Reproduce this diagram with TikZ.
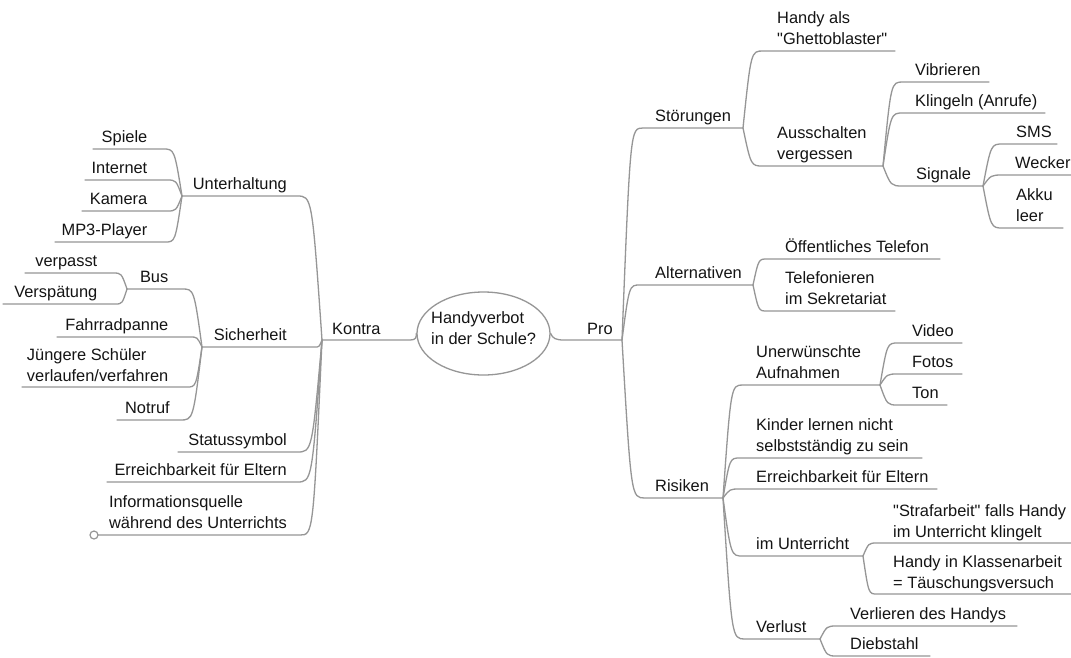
\documentclass[tikz,border=0pt]{standalone}
\usepackage{fontspec}
\setmainfont{Liberation Sans}[Ligatures=TeXOff]
\usetikzlibrary{calc,shapes.geometric}
\definecolor{linegray}{RGB}{150,150,150}
\definecolor{txtcol}{RGB}{20,20,20}
\newcommand\lblfont{\fontsize{16.4}{21}\selectfont}
\newcommand\twol[2]{\begin{tabular}[t]{@{}l@{}}#1\\#2\end{tabular}}
\tikzset{
  conn/.style={draw=linegray, line width=1.3pt, line cap=round},
  branch/.style={to path={.. controls ($(\tikztostart|-\tikztotarget)!0.4!(\tikztotarget)$) and ($(\tikztostart|-\tikztotarget)!0.4!(\tikztotarget)$) .. (\tikztotarget)}},
  lbl/.style={inner sep=0pt, text=txtcol, font=\lblfont},
  ltxt/.style={lbl, anchor=base east},
  rtxt/.style={lbl, anchor=base west},
  center/.style={ellipse, draw=linegray, line width=1.3pt, minimum width=133pt, minimum height=83pt, inner sep=0pt},
  endring/.style={circle, draw=linegray, fill=white, line width=1.2pt, minimum size=8pt, inner sep=0pt}
}
\begin{document}
\begin{tikzpicture}[x=1pt,y=-1pt]
\fill[white] (0,0) rectangle (1071,657);
\useasboundingbox (0,0) rectangle (1071,657);

% ---------- centre ----------
\node[center] (hv) at (483.5,333.5) {};
\node[rtxt] (hvt) at (431,323) {\twol{Handyverbot}{in der Schule?}};

% ---------- coordinates: left side ----------
\coordinate (konJ) at (322,340); \coordinate (konC) at (410,340);
\coordinate (untJ) at (182,196); \coordinate (untC) at (297,196);
\coordinate (spiL) at (93,149);  \coordinate (spiC) at (163,149);
\coordinate (intL) at (85,180);  \coordinate (intC) at (167,180);
\coordinate (kamL) at (82,211);  \coordinate (kamC) at (167,211);
\coordinate (mp3L) at (55,242);  \coordinate (mp3C) at (165,242);
\coordinate (sicJ) at (202,347); \coordinate (sicC) at (315,347);
\coordinate (busJ) at (127,289); \coordinate (busC) at (182,289);
\coordinate (verpL) at (25,273); \coordinate (verpC) at (113,273);
\coordinate (vspL) at (3,304);   \coordinate (vspC) at (115,304);
\coordinate (fahL) at (57,337);  \coordinate (fahC) at (190,337);
\coordinate (jueL) at (22,387);  \coordinate (jueC) at (187,387);
\coordinate (notL) at (117,420); \coordinate (notC) at (180,420);
\coordinate (stsL) at (178,452); \coordinate (stsC) at (297,452);
\coordinate (erlL) at (107,482); \coordinate (erlC) at (297,482);
\coordinate (infL) at (94,535);  \coordinate (infC) at (300,535);

% ---------- coordinates: right side ----------
\coordinate (proC) at (564,340); \coordinate (proJ) at (622,340);
\coordinate (stoC) at (643,128); \coordinate (stoJ) at (743,128);
\coordinate (hanC) at (763,51);  \coordinate (hanR) at (895,51);
\coordinate (ausC) at (763,166); \coordinate (ausJ) at (883,166);
\coordinate (vibC) at (903,82);  \coordinate (vibR) at (989,82);
\coordinate (kliC) at (903,113); \coordinate (kliR) at (1045,113);
\coordinate (sigC) at (903,186); \coordinate (sigJ) at (983,186);
\coordinate (smsC) at (1003,144); \coordinate (smsR) at (1057,144);
\coordinate (wecC) at (1003,175); \coordinate (wecR) at (1071,175);
\coordinate (akkC) at (1003,228); \coordinate (akkR) at (1063,228);
\coordinate (altC) at (640,285); \coordinate (altJ) at (753,285);
\coordinate (oefC) at (767,259); \coordinate (oefR) at (940,259);
\coordinate (telC) at (767,311); \coordinate (telR) at (895,311);
\coordinate (risC) at (645,498); \coordinate (risJ) at (723,498);
\coordinate (uneC) at (743,385); \coordinate (uneJ) at (880,385);
\coordinate (vidC) at (898,343); \coordinate (vidR) at (962,343);
\coordinate (fotC) at (898,374); \coordinate (fotR) at (962,374);
\coordinate (tonC) at (898,405); \coordinate (tonR) at (947,405);
\coordinate (kinC) at (740,458); \coordinate (kinR) at (922,458);
\coordinate (errC) at (740,489); \coordinate (errR) at (937,489);
\coordinate (imuC) at (743,556); \coordinate (imuJ) at (863,556);
\coordinate (strC) at (877,543); \coordinate (strR) at (1071,543);
\coordinate (hkaC) at (877,594); \coordinate (hkaR) at (1071,594);
\coordinate (verC) at (745,639); \coordinate (verJ) at (820,639);
\coordinate (vlhC) at (837,626); \coordinate (vlhR) at (1017,626);
\coordinate (dieC) at (837,656); \coordinate (dieR) at (930,656);

% ---------- connectors: left ----------
\draw[conn] (konJ) -- (konC) .. controls ($(konC)+(6,0)$) and ($(hv.west)+(0,4)$) .. (hv.west);
\draw[conn] (konJ) to[branch] (untC) -- (untJ);
\draw[conn] (untJ) to[branch] (spiC) -- (spiL);
\draw[conn] (untJ) to[branch] (intC) -- (intL);
\draw[conn] (untJ) to[branch] (kamC) -- (kamL);
\draw[conn] (untJ) to[branch] (mp3C) -- (mp3L);
\draw[conn] (konJ) to[branch] (sicC) -- (sicJ);
\draw[conn] (sicJ) to[branch] (busC) -- (busJ);
\draw[conn] (busJ) to[branch] (verpC) -- (verpL);
\draw[conn] (busJ) to[branch] (vspC) -- (vspL);
\draw[conn] (sicJ) to[branch] (fahC) -- (fahL);
\draw[conn] (sicJ) to[branch] (jueC) -- (jueL);
\draw[conn] (sicJ) to[branch] (notC) -- (notL);
\draw[conn] (konJ) to[branch] (stsC) -- (stsL);
\draw[conn] (konJ) to[branch] (erlC) -- (erlL);
\draw[conn] (konJ) to[branch] (infC) -- (infL);
\node[endring] (infO) at (infL) {};

% ---------- connectors: right ----------
\draw[conn] (hv.east) .. controls ($(hv.east)+(2,5)$) and ($(proC)+(-8,0)$) .. (proC) -- (proJ);
\draw[conn] (proJ) to[branch] (stoC) -- (stoJ);
\draw[conn] (stoJ) to[branch] (hanC) -- (hanR);
\draw[conn] (stoJ) to[branch] (ausC) -- (ausJ);
\draw[conn] (ausJ) to[branch] (vibC) -- (vibR);
\draw[conn] (ausJ) to[branch] (kliC) -- (kliR);
\draw[conn] (ausJ) to[branch] (sigC) -- (sigJ);
\draw[conn] (sigJ) to[branch] (smsC) -- (smsR);
\draw[conn] (sigJ) to[branch] (wecC) -- (wecR);
\draw[conn] (sigJ) to[branch] (akkC) -- (akkR);
\draw[conn] (proJ) to[branch] (altC) -- (altJ);
\draw[conn] (altJ) to[branch] (oefC) -- (oefR);
\draw[conn] (altJ) to[branch] (telC) -- (telR);
\draw[conn] (proJ) to[branch] (risC) -- (risJ);
\draw[conn] (risJ) to[branch] (uneC) -- (uneJ);
\draw[conn] (uneJ) to[branch] (vidC) -- (vidR);
\draw[conn] (uneJ) to[branch] (fotC) -- (fotR);
\draw[conn] (uneJ) to[branch] (tonC) -- (tonR);
\draw[conn] (risJ) to[branch] (kinC) -- (kinR);
\draw[conn] (risJ) to[branch] (errC) -- (errR);
\draw[conn] (risJ) to[branch] (imuC) -- (imuJ);
\draw[conn] (imuJ) to[branch] (strC) -- (strR);
\draw[conn] (imuJ) to[branch] (hkaC) -- (hkaR);
\draw[conn] (risJ) to[branch] (verC) -- (verJ);
\draw[conn] (verJ) to[branch] (vlhC) -- (vlhR);
\draw[conn] (verJ) to[branch] (dieC) -- (dieR);

% ---------- labels: left ----------
\node[rtxt] (kon) at (332,334) {Kontra};
\node[ltxt] (unt) at (287,189.5) {Unterhaltung};
\node[ltxt] (spi) at (147.5,142.5) {Spiele};
\node[ltxt] (int) at (147.5,173.5) {Internet};
\node[ltxt] (kam) at (147.5,204.5) {Kamera};
\node[ltxt] (mp3) at (147.5,235.5) {MP3-Player};
\node[ltxt] (sic) at (287,340.5) {Sicherheit};
\node[ltxt] (bus) at (168.5,282.5) {Bus};
\node[ltxt] (verp) at (97.5,266.5) {verpasst};
\node[ltxt] (vsp) at (97.5,297.5) {Verspätung};
\node[ltxt] (fah) at (168.5,330.5) {Fahrradpanne};
\node[ltxt] (jue) at (168.5,360.5) {\twol{Jüngere Schüler}{verlaufen/verfahren}};
\node[ltxt] (not) at (170,413.5) {Notruf};
\node[ltxt] (sts) at (287,445.5) {Statussymbol};
\node[ltxt] (erl) at (287,475.5) {Erreichbarkeit für Eltern};
\node[ltxt] (inf) at (287,507.5) {\twol{Informationsquelle}{während des Unterrichts}};

% ---------- labels: right ----------
\node[rtxt] (pro) at (587,334) {Pro};
\node[rtxt] (sto) at (655,121.5) {Störungen};
\node[rtxt] (han) at (777,23.5) {\twol{Handy als}{"Ghettoblaster"}};
\node[rtxt] (aus) at (777,138.5) {\twol{Ausschalten}{vergessen}};
\node[rtxt] (vib) at (915,75.5) {Vibrieren};
\node[rtxt] (kli) at (915,106.5) {Klingeln (Anrufe)};
\node[rtxt] (sig) at (916,179.5) {Signale};
\node[rtxt] (sms) at (1016,137.5) {SMS};
\node[rtxt] (wec) at (1015,168.5) {Wecker};
\node[rtxt] (akk) at (1016,200.5) {\twol{Akku}{leer}};
\node[rtxt] (alt) at (655,278.5) {Alternativen};
\node[rtxt] (oef) at (785,252.5) {Öffentliches Telefon};
\node[rtxt] (tel) at (785,283.5) {\twol{Telefonieren}{im Sekretariat}};
\node[rtxt] (ris) at (655,491.5) {Risiken};
\node[rtxt] (une) at (756,357.5) {\twol{Unerwünschte}{Aufnahmen}};
\node[rtxt] (vid) at (912,336.5) {Video};
\node[rtxt] (fot) at (912,367.5) {Fotos};
\node[rtxt] (ton) at (912,398.5) {Ton};
\node[rtxt] (kin) at (756,430.5) {\twol{Kinder lernen nicht}{selbstständig zu sein}};
\node[rtxt] (err) at (756,482.5) {Erreichbarkeit für Eltern};
\node[rtxt] (imu) at (756,549.5) {im Unterricht};
\node[rtxt] (str) at (893,516.5) {\twol{"Strafarbeit" falls Handy}{im Unterricht klingelt}};
\node[rtxt] (hka) at (893,567) {\twol{Handy in Klassenarbeit}{= Täuschungsversuch}};
\node[rtxt] (ver) at (756,632.5) {Verlust};
\node[rtxt] (vlh) at (850,619.5) {Verlieren des Handys};
\node[rtxt] (die) at (850,649.5) {Diebstahl};
\end{tikzpicture}
\end{document}
